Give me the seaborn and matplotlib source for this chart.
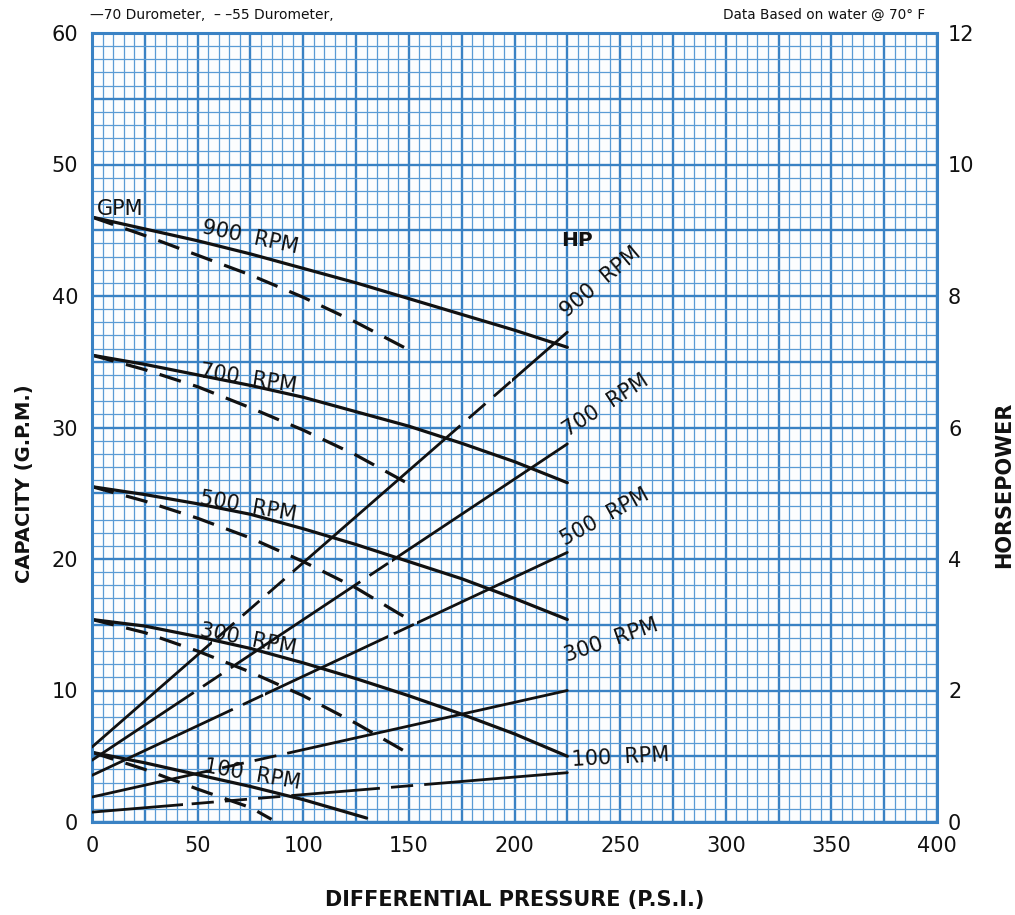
import numpy as np
import pandas as pd
import matplotlib
matplotlib.use("Agg")
import matplotlib.pyplot as plt
from matplotlib.path import Path
from matplotlib.patches import PathPatch
import seaborn as sns

# ---- capacity (GPM) vs differential pressure (PSI) ----
psi_70 = [0, 25, 50, 75, 100, 125, 150, 175, 200, 225]
gpm_900_70 = [46.0, 45.1, 44.2, 43.2, 42.1, 41.0, 39.8, 38.6, 37.4, 36.1]
gpm_700_70 = [35.5, 34.8, 34.0, 33.2, 32.3, 31.2, 30.1, 28.8, 27.4, 25.8]
gpm_500_70 = [25.5, 24.9, 24.2, 23.4, 22.3, 21.1, 19.8, 18.5, 17.0, 15.4]
gpm_300_70 = [15.4, 14.9, 14.1, 13.2, 12.1, 10.9, 9.6, 8.2, 6.7, 5.0]
psi_100_70 = [0, 25, 50, 75, 100, 130]
gpm_100_70 = [5.3, 4.5, 3.6, 2.7, 1.7, 0.3]

psi_55 = [0, 25, 50, 75, 100, 125, 150]
gpm_900_55 = [46.0, 44.6, 43.1, 41.6, 39.9, 38.0, 35.9]
gpm_700_55 = [35.5, 34.4, 33.1, 31.5, 29.8, 27.9, 25.7]
gpm_500_55 = [25.5, 24.4, 23.1, 21.6, 19.8, 17.8, 15.4]
gpm_300_55 = [15.4, 14.4, 13.0, 11.4, 9.6, 7.5, 5.2]
psi_100_55 = [0, 25, 50, 75, 85]
gpm_100_55 = [5.3, 4.0, 2.5, 1.1, 0.2]

# ---- horsepower vs differential pressure ----
psi_hp = [0, 225]
hp_900 = [1.14, 7.45]
hp_700 = [0.94, 5.75]
hp_500 = [0.71, 4.10]
hp_300 = [0.38, 2.00]
hp_100 = [0.15, 0.75]

rpm_labels = ["900", "700", "500", "300", "100"]

# broken (long-dash) stretches along each horsepower line, PSI
hp_breaks = {
    "900": [(57, 95), (172, 199)],
    "700": [(45, 71), (124, 142)],
    "500": [(61, 82), (140, 154)],
    "300": [(50, 99)],
    "100": [(43, 99), (132, 160)],
}

x_ticks = [0, 50, 100, 150, 200, 250, 300, 350, 400]
gpm_ticks = [0, 10, 20, 30, 40, 50, 60]
hp_ticks = [0, 2, 4, 6, 8, 10, 12]

sns.set_theme(style="white")
plt.rcParams["font.family"] = ["DejaVu Sans"]

fig = plt.figure(figsize=(10.15, 9.15), dpi=100)
fig.patch.set_facecolor("white")
ax = fig.add_axes([92 / 1015, 93 / 915, 845 / 1015, 789 / 915])
ax.set_facecolor("#fcfdfe")

GRID_MAJOR = "#3a82c4"
GRID_MINOR = "#5a9bd5"
INK = "#111111"

ax.set_xlim(0, 400)
ax.set_ylim(0, 60)
ax.set_xticks(np.arange(0, 401, 25))
ax.set_xticklabels([str(v) if v in x_ticks else "" for v in np.arange(0, 401, 25)])
ax.set_xticks(np.arange(0, 401, 5), minor=True)
ax.set_yticks(np.arange(0, 61, 5))
ax.set_yticklabels([str(v) if v in gpm_ticks else "" for v in np.arange(0, 61, 5)])
ax.set_yticks(np.arange(0, 61, 1), minor=True)
ax.grid(which="major", color=GRID_MAJOR, lw=1.7)
ax.grid(which="minor", color=GRID_MINOR, lw=0.9)
ax.set_axisbelow(True)
ax.tick_params(which="both", length=0, colors=INK)
ax.tick_params(axis="x", pad=10, labelsize=15)
ax.tick_params(axis="y", pad=10, labelsize=15)
for s in ax.spines.values():
    s.set_color(GRID_MAJOR)
    s.set_linewidth(2.2)
    s.set_visible(True)

LW = 2.3
DASH = (0, (7, 4))

curves_70 = [(psi_70, gpm_900_70), (psi_70, gpm_700_70), (psi_70, gpm_500_70),
             (psi_70, gpm_300_70), (psi_100_70, gpm_100_70)]
curves_55 = [(psi_55, gpm_900_55), (psi_55, gpm_700_55), (psi_55, gpm_500_55),
             (psi_55, gpm_300_55), (psi_100_55, gpm_100_55)]

for xs, ys in curves_70:
    sns.lineplot(x=xs, y=ys, ax=ax, color=INK, lw=LW, sort=False)
for xs, ys in curves_55:
    sns.lineplot(x=xs, y=ys, ax=ax, color=INK, lw=LW, sort=False,
                 linestyle=DASH)

# horsepower on the right-hand scale
ax2 = ax.twinx()
ax2.set_ylim(0, 12)
ax2.set_yticks(hp_ticks)
ax2.tick_params(length=0, pad=8, labelsize=15, colors=INK)
ax2.grid(False)
for s in ax2.spines.values():
    s.set_visible(False)


def strip_clip(spans, axis):
    verts, codes = [], []
    for a, b in spans:
        verts += [(a, -100), (b, -100), (b, 100), (a, 100), (a, -100)]
        codes += [Path.MOVETO, Path.LINETO, Path.LINETO, Path.LINETO, Path.CLOSEPOLY]
    return PathPatch(Path(verts, codes), transform=axis.transData,
                     facecolor="none", edgecolor="none")


hp_series = [hp_900, hp_700, hp_500, hp_300, hp_100]
for rpm, hp in zip(rpm_labels, hp_series):
    brk = hp_breaks[rpm]
    solid = []
    start = -10
    for a, b in brk:
        solid.append((start, a))
        start = b
    solid.append((start, 400))

    sns.lineplot(x=psi_hp, y=hp, ax=ax2, color=INK, lw=2.0)
    ax2.lines[-1].set_clip_path(strip_clip(solid, ax2))

    sns.lineplot(x=psi_hp, y=hp, ax=ax2, color=INK, lw=2.0,
                 linestyle=(0, (8, 4)))
    ax2.lines[-1].set_clip_path(strip_clip(brk, ax2))

ax2.set_xlim(0, 400)
ax.set_xlabel("")
ax.set_ylabel("")
ax2.set_ylabel("")

# curve annotations
lbl = dict(fontsize=15, color=INK, ha="center", va="center",
           rotation_mode="anchor")
ax.text(2.2, 46.6, "GPM", ha="left", va="center", fontsize=15, color=INK)
gpm_lbl_pos = [(75, 44.5, -12), (74, 33.7, -9), (74, 24.0, -10),
               (74, 13.9, -11), (76, 3.6, -10)]
for rpm, (x, y, r) in zip(rpm_labels, gpm_lbl_pos):
    ax.text(x, y, f"{rpm}  RPM", rotation=r, **lbl)

ax.text(229.6, 44.2, "HP", fontsize=14.5, fontweight="bold", color=INK,
        ha="center", va="center")
hp_lbl_pos = [(241, 41.1, 40), (243, 31.7, 33), (243, 23.2, 29),
              (246, 13.8, 19), (250, 4.9, 3)]
for rpm, (x, y, r) in zip(rpm_labels, hp_lbl_pos):
    ax.text(x, y, f"{rpm}  RPM", rotation=r, **lbl)

# axis titles and header notes
title_kw = dict(ha="center", va="center", fontsize=14, fontweight="bold",
                color=INK)
fig.text(25 / 1015, 1 - 484 / 915, "CAPACITY (G.P.M.)", rotation=90, **title_kw)
fig.text(1004 / 1015, 1 - 485 / 915, "HORSEPOWER", rotation=90,
         **dict(title_kw, fontsize=15))
fig.text(515 / 1015, 1 - 900 / 915, "DIFFERENTIAL PRESSURE (P.S.I.)",
         **dict(title_kw, fontsize=15))
fig.text(90 / 1015, 1 - 15 / 915, "\u201470 Durometer,  \u2013 \u201355 Durometer,",
         ha="left", va="center", fontsize=10, color=INK)
fig.text(925 / 1015, 1 - 15 / 915, "Data Based on water @ 70\u00b0 F",
         ha="right", va="center", fontsize=9.8, color=INK)

fig.savefig("out.png", dpi=100)
